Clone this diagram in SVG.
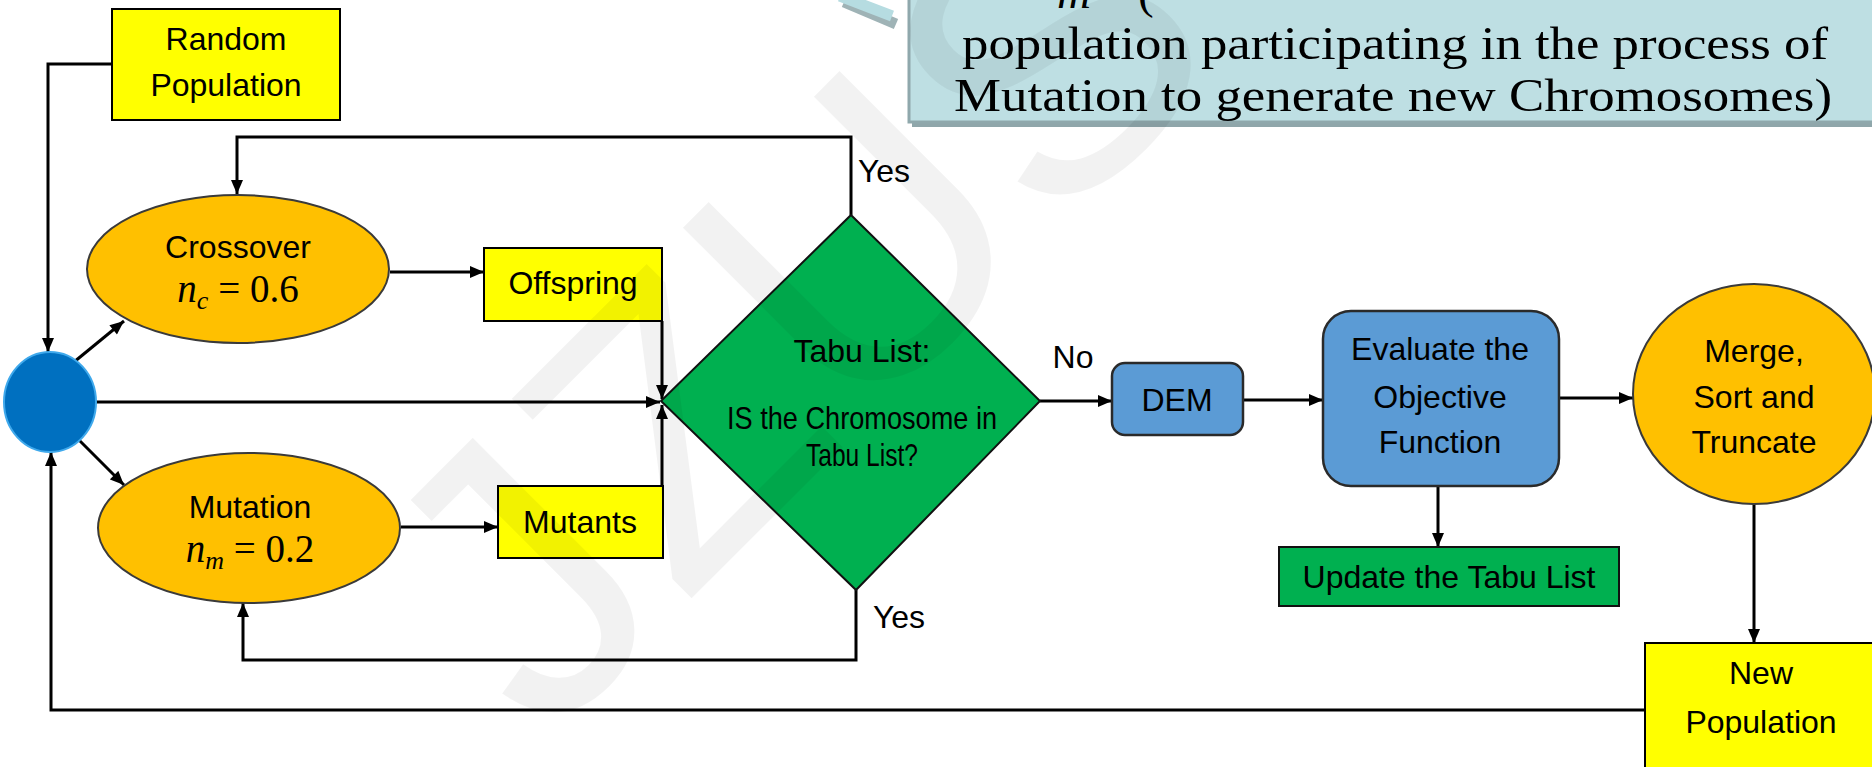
<svg xmlns="http://www.w3.org/2000/svg" width="1872" height="767" viewBox="0 0 1872 767">
<defs>
<marker id="ah" viewBox="0 0 14 12" refX="14" refY="6" markerWidth="15" markerHeight="12" markerUnits="userSpaceOnUse" orient="auto">
<path d="M0,0 L14,6 L0,12 Z" fill="#000"/>
</marker>
</defs>
<style>
.t{font-family:"Liberation Sans",Arial,sans-serif;font-size:32px;fill:#000;text-anchor:middle}
.s{font-family:"Liberation Serif","Times New Roman",serif;fill:#000}
.c{fill:none;stroke:#000;stroke-width:3;marker-end:url(#ah)}
.yb{fill:#FFFF00;stroke:#000;stroke-width:2}
.ob{fill:#FFC000;stroke:#3a3a3a;stroke-width:2}
.bb{fill:#5B9BD5;stroke:#2a2a2a;stroke-width:2.5}
.gb{fill:#00B050;stroke:#111;stroke-width:2}
</style>
<rect width="1872" height="767" fill="#fff"/>

<g id="callout">
<path d="M842,-2 L894,20" stroke="#9fb3b6" stroke-width="11" fill="none" transform="translate(2,4)"/>
<path d="M840,-4 L892,16" stroke="#b6dce1" stroke-width="11" fill="none"/>
<rect x="912" y="-10" width="980" height="137" fill="#8fa6aa"/>
<rect x="909" y="-10" width="980" height="132" fill="#BEDFE3" stroke="#8fa8ac" stroke-width="3"/>
<text class="s" x="1057" y="8" font-size="47" font-style="italic">m</text>
<text class="s" x="1138" y="8" font-size="47">(</text>
<text class="s" x="962" y="59" font-size="47" textLength="866" lengthAdjust="spacingAndGlyphs">population participating in the process of</text>
<text class="s" x="954" y="111" font-size="47" textLength="878" lengthAdjust="spacingAndGlyphs">Mutation to generate new Chromosomes)</text>
</g>

<g id="connectors">
<path class="c" d="M112,64 H48 V352"/>
<path class="c" d="M74,362 L124,321"/>
<path class="c" d="M79,440 L124,485"/>
<path class="c" d="M96,402 H660"/>
<path class="c" d="M390,272 H484"/>
<path class="c" d="M401,527 H498"/>
<path class="c" d="M662,321 V399"/>
<path class="c" d="M662,486 V405"/>
<path class="c" d="M851,215 V137 H237 V194"/>
<path class="c" d="M856,590 V660 H243 V603"/>
<path class="c" d="M1040,401 H1112"/>
<path class="c" d="M1243,400 H1323"/>
<path class="c" d="M1559,398 H1633"/>
<path class="c" d="M1438,486 V547"/>
<path class="c" d="M1754,504 V643"/>
<path class="c" d="M1645,710 H51 V452"/>
<text class="t" x="884" y="182">Yes</text>
<text class="t" x="899" y="628">Yes</text>
<text class="t" x="1073" y="368">No</text>
</g>

<g id="random-population">
<rect class="yb" x="112" y="9" width="228" height="111"/>
<text class="t" x="226" y="50" font-size="30">Random</text>
<text class="t" x="226" y="96" font-size="30">Population</text>
</g>

<g id="start">
<ellipse cx="50" cy="402" rx="46" ry="50" fill="#0070C0" stroke="#3fa9ec" stroke-width="2"/>
</g>

<g id="crossover">
<ellipse class="ob" cx="238" cy="269" rx="151" ry="74"/>
<text class="t" x="238" y="258">Crossover</text>
<text class="s" x="238" y="302" font-size="39" text-anchor="middle"><tspan font-style="italic">n</tspan><tspan font-style="italic" font-size="26" dy="7">c</tspan><tspan dy="-7"> = 0.6</tspan></text>
</g>

<g id="mutation">
<ellipse class="ob" cx="249" cy="528" rx="151" ry="75"/>
<text class="t" x="250" y="518">Mutation</text>
<text class="s" x="250" y="562" font-size="39" text-anchor="middle"><tspan font-style="italic">n</tspan><tspan font-style="italic" font-size="26" dy="7">m</tspan><tspan dy="-7"> = 0.2</tspan></text>
</g>

<g id="offspring">
<rect class="yb" x="484" y="248" width="178" height="73"/>
<text class="t" x="573" y="294">Offspring</text>
</g>

<g id="mutants">
<rect class="yb" x="498" y="486" width="165" height="72"/>
<text class="t" x="580" y="533">Mutants</text>
</g>

<g id="tabu-check">
<polygon class="gb" points="851,215 1040,401 856,590 661,401"/>
<text class="t" x="862" y="362" font-size="34">Tabu List:</text>
<text class="t" x="862" y="429" font-size="25" textLength="270" lengthAdjust="spacingAndGlyphs">IS the Chromosome in</text>
<text class="t" x="862" y="466" font-size="25" textLength="112" lengthAdjust="spacingAndGlyphs">Tabu List?</text>
</g>

<g id="dem">
<rect class="bb" x="1112" y="363" width="131" height="72" rx="13"/>
<text class="t" x="1177" y="411">DEM</text>
</g>

<g id="evaluate">
<rect class="bb" x="1323" y="311" width="236" height="175" rx="28"/>
<text class="t" x="1440" y="360">Evaluate the</text>
<text class="t" x="1440" y="408">Objective</text>
<text class="t" x="1440" y="453">Function</text>
</g>

<g id="update-tabu">
<rect class="gb" x="1279" y="547" width="340" height="59"/>
<text class="t" x="1449" y="588">Update the Tabu List</text>
</g>

<g id="merge">
<ellipse class="ob" cx="1754" cy="394" rx="121" ry="110"/>
<text class="t" x="1754" y="362">Merge,</text>
<text class="t" x="1754" y="408">Sort and</text>
<text class="t" x="1754" y="453">Truncate</text>
</g>

<g id="new-population">
<rect class="yb" x="1645" y="643" width="240" height="140"/>
<text class="t" x="1761" y="684" font-size="30">New</text>
<text class="t" x="1761" y="733" font-size="30">Population</text>
</g>

<text x="545" y="745" transform="rotate(-45 545 745)" font-family="Liberation Sans,sans-serif" font-size="390" fill="#000" fill-opacity="0.05">JZUS</text>
</svg>
